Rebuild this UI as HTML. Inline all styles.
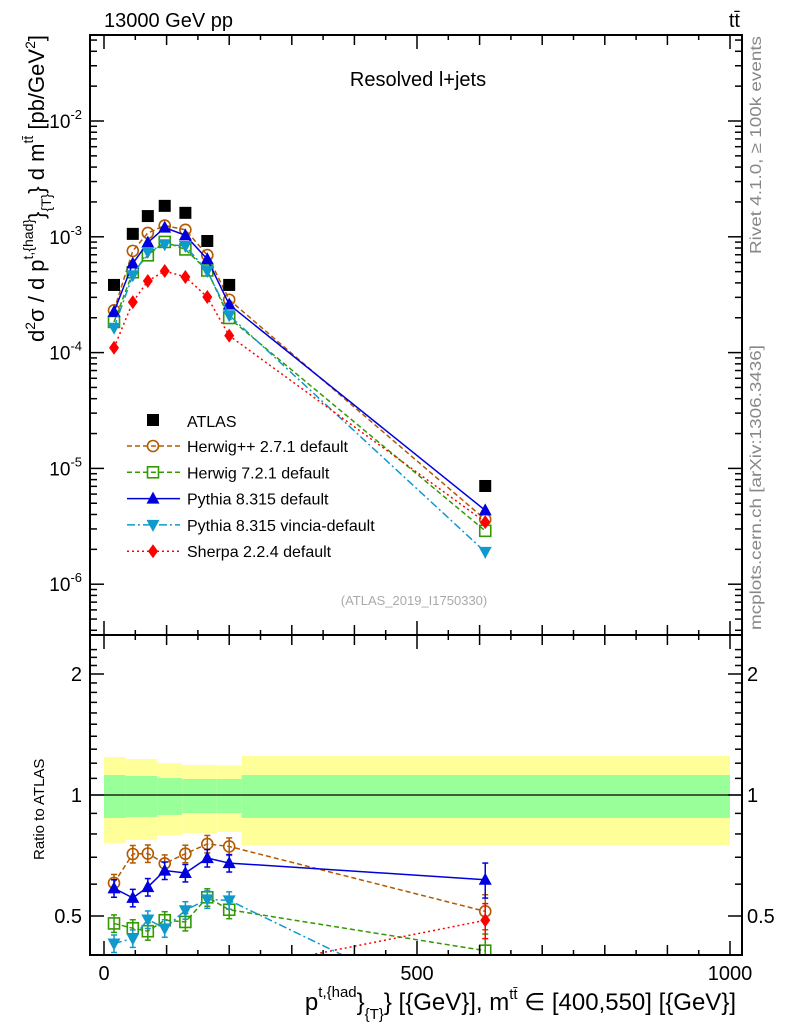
<!DOCTYPE html>
<html><head><meta charset="utf-8"><style>
body{margin:0;background:#fff}
svg{font-family:"Liberation Sans",Arial,sans-serif}
</style></head><body>
<svg id="c" width="786" height="1024" xmlns="http://www.w3.org/2000/svg">
<rect x="0" y="0" width="786" height="1024" fill="#fff"/>
<g id="bands"></g>
<g id="grid"></g>
<g id="series"></g>
<g id="axes"></g>
<text x="104" y="27" font-size="20">13000 GeV pp</text>
<text x="740" y="27" font-size="20" text-anchor="end">tt̄</text>
<text x="418" y="86" font-size="20" text-anchor="middle">Resolved l+jets</text>
<text x="414" y="605" font-size="13" fill="#aaa" text-anchor="middle">(ATLAS_2019_I1750330)</text>
<text transform="translate(761,254) rotate(-90)" font-size="16" fill="#888" textLength="218" lengthAdjust="spacingAndGlyphs">Rivet 4.1.0, ≥ 100k events</text>
<text transform="translate(761,630) rotate(-90)" font-size="16" fill="#888" textLength="285" lengthAdjust="spacingAndGlyphs">mcplots.cern.ch [arXiv:1306.3436]</text>
<text transform="translate(44,342) rotate(-90)" font-size="22">d<tspan font-size="14" dy="-9">2</tspan><tspan dy="9">σ / d p</tspan><tspan font-size="14" dy="-11">t,{had}</tspan><tspan dy="11">}</tspan><tspan font-size="14" dy="7">{T}</tspan><tspan dy="-7">} d m</tspan><tspan font-size="14" dy="-11">tt̄</tspan><tspan dy="11"> [pb/GeV</tspan><tspan font-size="14" dy="-9">2</tspan><tspan dy="9">]</tspan></text>
<text transform="translate(44,860) rotate(-90)" font-size="15">Ratio to ATLAS</text>
<text x="736" y="1010" font-size="24" text-anchor="end">p<tspan font-size="15" dy="-13">t,{had</tspan><tspan dy="13">}</tspan><tspan font-size="15" dy="9">{T}</tspan><tspan dy="-9">} [{GeV}], m</tspan><tspan font-size="15" dy="-11">tt̄</tspan><tspan dy="11"> ∈ [400,550] [{GeV}]</tspan></text>
<g id="legend"></g>
</svg>
<script>
const xCenters=[16,46,70,97,130,165,200,609];
const atlas=[3.84e-4,1.06e-3,1.51e-3,1.85e-3,1.61e-3,9.2e-4,3.84e-4,7.05e-6];
const herwigpp=[2.32e-4,7.56e-4,1.08e-3,1.25e-3,1.15e-3,6.95e-4,2.86e-4,3.62e-6];
const herwig7=[1.84e-4,4.94e-4,6.92e-4,9.03e-4,7.78e-4,5.12e-4,1.99e-4,2.89e-6];
const pythia=[2.25e-4,5.88e-4,8.91e-4,1.20e-3,1.03e-3,6.41e-4,2.60e-4,4.34e-6];
const vincia=[1.64e-4,4.66e-4,7.40e-4,8.62e-4,8.32e-4,5.06e-4,2.10e-4,1.9e-6];
const sherpa=[1.10e-4,2.73e-4,4.15e-4,5.07e-4,4.5e-4,3.02e-4,1.40e-4,3.44e-6];
const bandEdges=[0,35,85,125,180,220,1000];
const yellowUp=[1.243,1.229,1.201,1.188,1.185,1.25];
const yellowDn=[0.760,0.773,0.795,0.804,0.809,0.751];
const greenUp=[1.121,1.115,1.102,1.096,1.096,1.121];
const greenDn=[0.877,0.882,0.892,0.902,0.902,0.877];
const xTicks=[0,500,1000];
const yTicksMain=[-2,-3,-4,-5,-6];
const ratioTicks=[0.5,1,2];

const NS="http://www.w3.org/2000/svg";
const L=90,R=742,T=35,MB=635,B=955;
const X=v=>104+v*0.626;
const Y=v=>121-(Math.log10(v)+2)*115.8;
const YR=r=>795-121*Math.log2(r);
function mk(tag,at,par){const e=document.createElementNS(NS,tag);for(const k in at)e.setAttribute(k,at[k]);(par||document.getElementById('series')).appendChild(e);return e;}
const clip=mk('clipPath',{id:'cm'},document.getElementById('c'));mk('rect',{x:L,y:T,width:R-L,height:MB-T},clip);
const clip2=mk('clipPath',{id:'cr'},document.getElementById('c'));mk('rect',{x:L,y:MB,width:R-L,height:B-MB},clip2);

const bg=document.getElementById('bands');
for(let i=0;i<bandEdges.length-1;i++){
 const x0=X(bandEdges[i]),x1=X(bandEdges[i+1]);
 const y=mk('rect',{x:x0,y:YR(yellowUp[i]),width:x1-x0,height:YR(yellowDn[i])-YR(yellowUp[i]),fill:'#ffff99'},bg);
 
 
 const g=mk('rect',{x:x0,y:YR(greenUp[i]),width:x1-x0,height:YR(greenDn[i])-YR(greenUp[i]),fill:'#99ff99'},bg);
 
 
}
mk('line',{x1:L,x2:R,y1:795,y2:795,stroke:'#000','stroke-width':1.3},bg);

const ax=document.getElementById('axes');
mk('rect',{x:L,y:T,width:R-L,height:MB-T,fill:'none',stroke:'#000','stroke-width':2},ax);
mk('rect',{x:L,y:MB,width:R-L,height:B-MB,fill:'none',stroke:'#000','stroke-width':2},ax);
for(let v=0;v<=1050;v+=50){const x=X(v);if(x>R)break;const len=v%500==0?14:(v%100==0?10:5);
 for(const yb of [T,MB]){mk('line',{x1:x,x2:x,y1:yb,y2:yb+len,stroke:'#000','stroke-width':1.5},ax);}
 for(const yb of [MB,B]){mk('line',{x1:x,x2:x,y1:yb,y2:yb-len,stroke:'#000','stroke-width':1.5},ax);}
}
xTicks.forEach(v=>{const t=mk('text',{x:X(v),y:980,'font-size':20,'text-anchor':'middle'},ax);t.textContent=v;
 
 });
for(let d=-7;d<=-1;d++){for(let m=1;m<10;m++){const v=m*Math.pow(10,d);const y=Y(v);if(y<T||y>MB)continue;const len=m==1?14:7;
 mk('line',{x1:L,x2:L+len,y1:y,y2:y,stroke:'#000','stroke-width':1.5},ax);mk('line',{x1:R,x2:R-len,y1:y,y2:y,stroke:'#000','stroke-width':1.5},ax);}}
yTicksMain.forEach(d=>{const t=mk('text',{x:82,y:Y(Math.pow(10,d))+7,'font-size':19,'text-anchor':'end'},ax);
 t.innerHTML='10<tspan font-size="13" dy="-9">'+d+'</tspan>';
 
 });
for(let r=0.4;r<=2.35;r+=0.1){const y=YR(r);if(y<MB||y>B)continue;const big=[0.5,1,2].some(q=>Math.abs(q-r)<1e-6);const len=big?14:7;
 mk('line',{x1:L,x2:L+len,y1:y,y2:y,stroke:'#000','stroke-width':1.5},ax);mk('line',{x1:R,x2:R-len,y1:y,y2:y,stroke:'#000','stroke-width':1.5},ax);}
ratioTicks.forEach(r=>{for(const [x,a] of [[82,'end'],[747,'start']]){const t=mk('text',{x:x,y:YR(r)+7,'font-size':20,'text-anchor':a},ax);t.textContent=r;
 
 }});

function marker(type,x,y,col,par){
 const s=par;
 if(type=='sq')mk('rect',{x:x-6,y:y-6,width:12,height:12,fill:'#000'},s);
 else if(type=='osq')mk('rect',{x:x-5.5,y:y-5.5,width:11,height:11,fill:'none',stroke:col,'stroke-width':1.6},s);
 else if(type=='oc')mk('circle',{cx:x,cy:y,r:5.5,fill:'none',stroke:col,'stroke-width':1.6},s);
 else if(type=='tu')mk('polygon',{points:`${x},${y-7} ${x-6.5},${y+5} ${x+6.5},${y+5}`,fill:col},s);
 else if(type=='td')mk('polygon',{points:`${x},${y+7} ${x-6.5},${y-5} ${x+6.5},${y-5}`,fill:col},s);
 else if(type=='di')mk('polygon',{points:`${x},${y-7} ${x-5},${y} ${x},${y+7} ${x+5},${y}`,fill:col},s);
}
const series=[
 {n:'herwigpp',lab:'Herwig++ 2.7.1 default',d:herwigpp,c:'#b35900',m:'oc',dash:'5,3'},
 {n:'herwig7',lab:'Herwig 7.2.1 default',d:herwig7,c:'#339900',m:'osq',dash:'5,3'},
 {n:'pythia',lab:'Pythia 8.315 default',d:pythia,c:'#0000dd',m:'tu',dash:''},
 {n:'vincia',lab:'Pythia 8.315 vincia-default',d:vincia,c:'#1199cc',m:'td',dash:'8,3,2,3'},
 {n:'sherpa',lab:'Sherpa 2.2.4 default',d:sherpa,c:'#ff0000',m:'di',dash:'2,3'}];
const sg=document.getElementById('series');
series.forEach(s=>{
 const g=mk('g',{'clip-path':'url(#cm)'},sg);
 
 
 mk('polyline',{points:s.d.map((v,i)=>X(xCenters[i])+','+Y(v)).join(' '),fill:'none',stroke:s.c,'stroke-width':1.5,'stroke-dasharray':s.dash},g);
 s.d.forEach((v,i)=>marker(s.m,X(xCenters[i]),Y(v),s.c,g));
 const g2=mk('g',{'clip-path':'url(#cr)'},sg);
 
 
 const rr=s.d.map((v,i)=>v/atlas[i]);
 mk('polyline',{points:rr.map((r,i)=>X(xCenters[i])+','+YR(r)).join(' '),fill:'none',stroke:s.c,'stroke-width':1.5,'stroke-dasharray':s.dash},g2);
 rr.forEach((r,i)=>{const x=X(xCenters[i]);const e=i==7?0.1:0.05;
  mk('line',{x1:x,x2:x,y1:YR(r*(1+e)),y2:YR(r*(1-e)),stroke:s.c,'stroke-width':1.5},g2);
  mk('line',{x1:x-3,x2:x+3,y1:YR(r*(1+e)),y2:YR(r*(1+e)),stroke:s.c,'stroke-width':1.5},g2);
  mk('line',{x1:x-3,x2:x+3,y1:YR(r*(1-e)),y2:YR(r*(1-e)),stroke:s.c,'stroke-width':1.5},g2);
  marker(s.m,x,YR(r),s.c,g2);});
});
const ag=mk('g',{'clip-path':'url(#cm)'},sg);


atlas.forEach((v,i)=>marker('sq',X(xCenters[i]),Y(v),'#000',ag));

const lg=document.getElementById('legend');
const l0=mk('g',{},lg);


marker('sq',153,420,'#000',l0);
const t0=mk('text',{x:187,y:427,'font-size':16},l0);t0.textContent='ATLAS';
series.forEach((s,k)=>{const y=446+k*26.3;const g=mk('g',{},lg);
 
 
 mk('line',{x1:127,x2:180,y1:y,y2:y,stroke:s.c,'stroke-width':1.5,'stroke-dasharray':s.dash},g);
 marker(s.m,153,y,s.c,g);
 const t=mk('text',{x:187,y:y+6,'font-size':16},g);t.textContent=s.lab;});
</script>
</body></html>
